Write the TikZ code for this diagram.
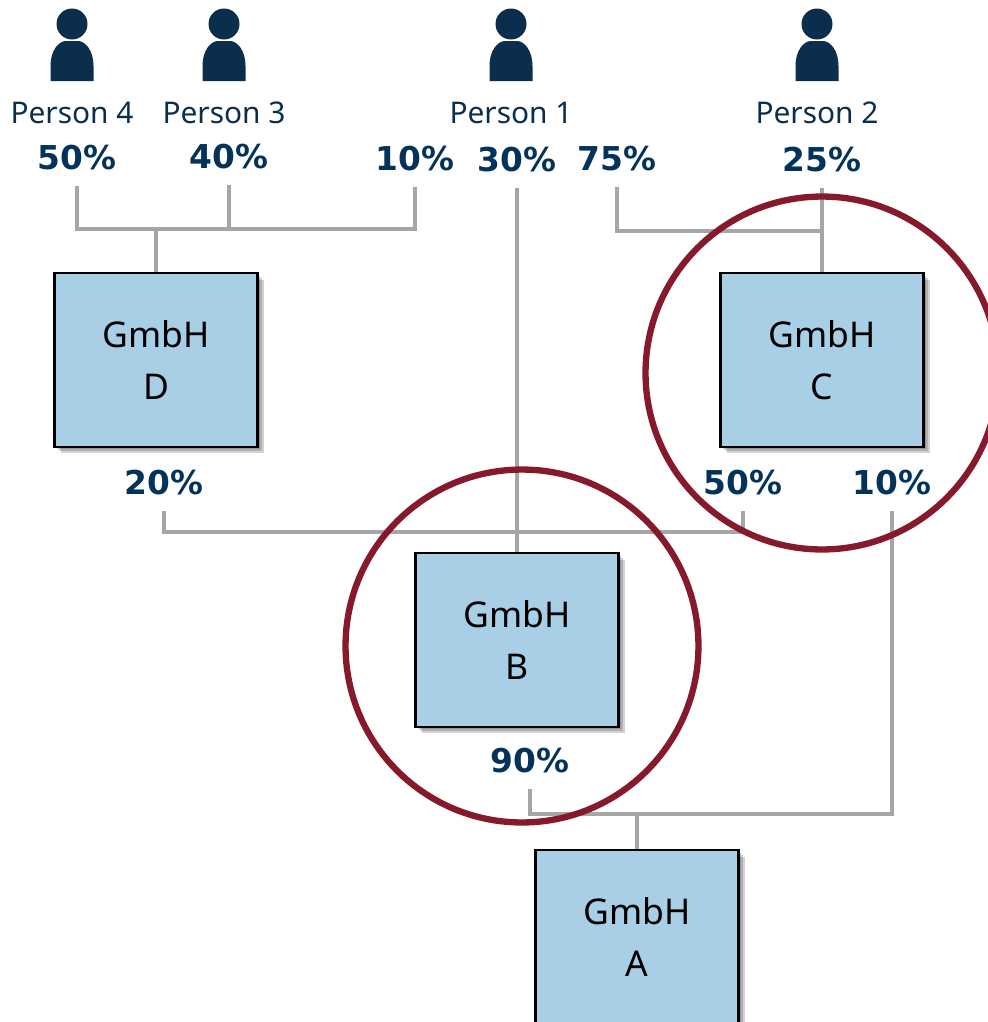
\documentclass[tikz,border=0pt]{standalone}
\usepackage{fontspec}
\usepackage{xcolor}
\usetikzlibrary{shadows}
\newfontfamily\labelfont{Noto Sans}
\newfontfamily\sharefont{DejaVu Sans}[BoldFont={DejaVu Sans Bold}]
\definecolor{navy}{HTML}{0B2E4D}
\definecolor{sharenavy}{HTML}{03335A}
\definecolor{boxblue}{HTML}{A9CFE7}
\definecolor{linkgray}{HTML}{A6A6A6}
\definecolor{ringred}{HTML}{861A2C}
\tikzset{
    softshadow/.style={shadow xshift=#1, shadow yshift=-#1, opacity=0.22, fill=black!80},
    company/.style={draw=black, line width=1.4pt, fill=boxblue, minimum width=4.06cm, minimum height=3.48cm,
        inner sep=0pt, align=center, text=black, font=\labelfont\fontsize{20.2}{29.5}\selectfont,
        execute at begin node=\rule{0pt}{17pt},
        drop shadow={softshadow=0.13cm}, drop shadow={softshadow=0.09cm}, drop shadow={softshadow=0.05cm}},
    person/.style={text=navy, inner sep=0pt, font=\labelfont\fontsize{17}{20}\selectfont},
    share/.style={text=sharenavy, inner sep=0pt, minimum height=1.12cm, font=\sharefont\bfseries\fontsize{18.7}{22}\selectfont},
    link/.style={draw=linkgray, line width=2.7pt},
    ring/.style={circle, draw=ringred, line width=3.6pt, minimum size=7.06cm, inner sep=0pt},
    pics/personicon/.style={code={
        \fill[navy] (0,-57) circle (15.5);
        \fill[navy] (-21.5,0) -- (-21.5,-15) .. controls (-21.5,-31) and (-13,-40) .. (-6,-40)
            -- (6,-40) .. controls (13,-40) and (21.5,-31) .. (21.5,-15) -- (21.5,0) -- cycle;
    }}
}
\begin{document}
\begin{tikzpicture}[x=0.02cm, y=-0.02cm]
    \useasboundingbox (0,0) rectangle (988,1022);

    % Persons
    \foreach \px/\pname in {72/4, 224/3, 511/1, 817/2} {
        \pic at (\px,81) {personicon};
        \node[person] (person\pname) at (\px,113) {Person \pname};
    }

    % Shares
    \node[share] (shareFour) at (77,158) {50\%};
    \node[share] (shareThree) at (229,157) {40\%};
    \node[share] (shareOneD) at (415,159) {10\%};
    \node[share] (shareOneB) at (517,160) {30\%};
    \node[share] (shareOneC) at (617,159) {75\%};
    \node[share] (shareTwo) at (822,160) {25\%};
    \node[share] (shareDB) at (164,483) {20\%};
    \node[share] (shareCB) at (743,483) {50\%};
    \node[share] (shareCA) at (892,483) {10\%};
    \node[share] (shareBA) at (530,761) {90\%};

    % Companies
    \node[company] (boxD) at (156,360) {GmbH\\D};
    \node[company] (boxC) at (822,360) {GmbH\\C};
    \node[company] (boxB) at (517,640) {GmbH\\B};
    \node[company] (boxA) at (637,937) {GmbH\\A};

    % Links
    \coordinate (busD) at (156,229);
    \coordinate (busC) at (822,231);
    \coordinate (busB) at (517,532);
    \coordinate (busA) at (637,814);
    \draw[link] (shareFour.south) |- (busD);
    \draw[link] (shareOneD.south) |- (busD);
    \draw[link] (shareThree.south) -- (shareThree.south |- busD);
    \draw[link] (busD) -- (boxD.north);
    \draw[link] (shareOneC.south) |- (busC);
    \draw[link] (shareTwo.south) -- (boxC.north);
    \draw[link] (shareDB.south) |- (busB);
    \draw[link] (shareCB.south) |- (busB);
    \draw[link] (shareOneB.south) -- (boxB.north);
    \draw[link] (shareBA.south) |- (busA);
    \draw[link] (shareCA.south) |- (busA);
    \draw[link] (busA) -- (boxA.north);

    % Rings
    \node[ring] (ringB) at (522,646) {};
    \node[ring] (ringC) at (822,373) {};
\end{tikzpicture}
\end{document}
